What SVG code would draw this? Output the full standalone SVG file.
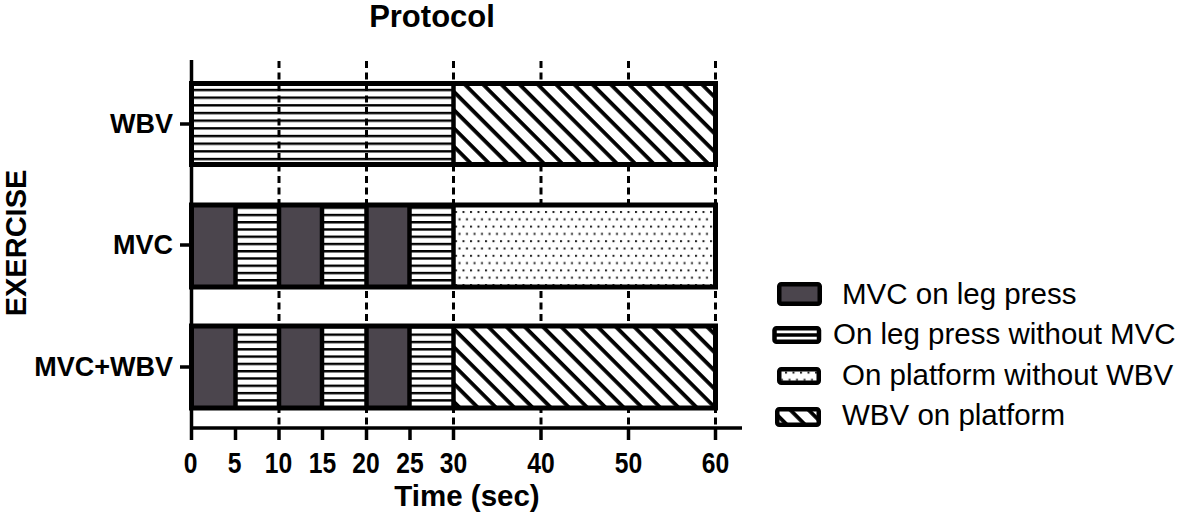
<svg xmlns="http://www.w3.org/2000/svg" width="1181" height="515" viewBox="0 0 1181 515">
<style>
.bold{font-family:"Liberation Sans",Arial,sans-serif;font-weight:bold;fill:#000}
.leg{font-family:"Liberation Sans",Arial,sans-serif;font-size:29.5px;fill:#000}
.tick{font-size:29px;text-anchor:middle}
.ylab{font-size:27px;text-anchor:end}
.dash{stroke:#000;stroke-width:3;stroke-dasharray:7 4.5;fill:none}
.ax{stroke:#000;stroke-width:3.5;fill:none}
.sep{stroke:#000;stroke-width:4.5}
.frame{fill:none;stroke:#000;stroke-width:5}
.dark{fill:#4b454d}
.sw{stroke:#000;stroke-width:4.5}
</style>
<defs>
<pattern id="hsA" patternUnits="userSpaceOnUse" x="0" y="88.8" width="20" height="7.67"><rect x="0" y="0" width="20" height="2.4" fill="#000"/></pattern>
<pattern id="hsB" patternUnits="userSpaceOnUse" x="0" y="213.8" width="20" height="7.25"><rect x="0" y="0" width="20" height="2.4" fill="#000"/></pattern>
<pattern id="hsC" patternUnits="userSpaceOnUse" x="0" y="333.5" width="20" height="7.3"><rect x="0" y="0" width="20" height="2.4" fill="#000"/></pattern>
<pattern id="diag" patternUnits="userSpaceOnUse" width="20" height="12.9" patternTransform="rotate(45)"><rect x="0" y="0" width="20" height="12.9" fill="#fff"/><rect x="0" y="0" width="20" height="3.8" fill="#000"/></pattern>
<pattern id="dots" patternUnits="userSpaceOnUse" x="455" y="211" width="7.5" height="14.6"><rect x="0" y="0" width="7.5" height="14.6" fill="#fff"/><rect x="0" y="0" width="2" height="2" fill="#222"/><rect x="3.5" y="7.3" width="2" height="2" fill="#222"/></pattern>
</defs>

<text class="bold" x="432" y="27" font-size="31" text-anchor="middle">Protocol</text>
<text class="bold" font-size="29" text-anchor="middle" transform="translate(26,243) rotate(-90)">EXERCISE</text>
<text class="bold" x="467" y="506" font-size="29.5" text-anchor="middle">Time (sec)</text>

<g id="connectors">
<line class="dash" x1="279" y1="61" x2="279" y2="428"/>
<line class="dash" x1="366.5" y1="61" x2="366.5" y2="428"/>
<line class="dash" x1="453.5" y1="61" x2="453.5" y2="428"/>
<line class="dash" x1="541" y1="61" x2="541" y2="428"/>
<line class="dash" x1="628.5" y1="61" x2="628.5" y2="428"/>
<line class="dash" x1="715.5" y1="61" x2="715.5" y2="428"/>
</g>

<g id="bar-wbv">
<rect x="191.5" y="83.5" width="262" height="81" fill="url(#hsA)"/>
<rect x="453.5" y="83.5" width="262" height="81" fill="url(#diag)"/>
<line class="sep" x1="453.5" y1="83.5" x2="453.5" y2="164.5"/>
<rect class="frame" x="191.5" y="83.5" width="524" height="81"/>
</g>

<g id="bar-mvc">
<rect class="dark" x="191.5" y="205" width="44" height="82"/>
<rect x="235.5" y="205" width="43.5" height="82" fill="url(#hsB)"/>
<rect class="dark" x="279" y="205" width="44" height="82"/>
<rect x="323" y="205" width="43.5" height="82" fill="url(#hsB)"/>
<rect class="dark" x="366.5" y="205" width="43.5" height="82"/>
<rect x="410" y="205" width="43.5" height="82" fill="url(#hsB)"/>
<rect x="453.5" y="205" width="262" height="82" fill="url(#dots)"/>
<line class="sep" x1="235.5" y1="205" x2="235.5" y2="287"/>
<line class="sep" x1="279" y1="205" x2="279" y2="287"/>
<line class="sep" x1="322" y1="205" x2="322" y2="287"/>
<line class="sep" x1="366.5" y1="205" x2="366.5" y2="287"/>
<line class="sep" x1="409.5" y1="205" x2="409.5" y2="287"/>
<line class="sep" x1="453.5" y1="205" x2="453.5" y2="287"/>
<rect class="frame" x="191.5" y="205" width="524" height="82"/>
</g>

<g id="bar-mvcwbv">
<rect class="dark" x="191.5" y="326" width="44" height="82"/>
<rect x="235.5" y="326" width="43.5" height="82" fill="url(#hsC)"/>
<rect class="dark" x="279" y="326" width="44" height="82"/>
<rect x="323" y="326" width="43.5" height="82" fill="url(#hsC)"/>
<rect class="dark" x="366.5" y="326" width="43.5" height="82"/>
<rect x="410" y="326" width="43.5" height="82" fill="url(#hsC)"/>
<rect x="453.5" y="326" width="262" height="82" fill="url(#diag)"/>
<line class="sep" x1="235.5" y1="326" x2="235.5" y2="408"/>
<line class="sep" x1="279" y1="326" x2="279" y2="408"/>
<line class="sep" x1="322" y1="326" x2="322" y2="408"/>
<line class="sep" x1="366.5" y1="326" x2="366.5" y2="408"/>
<line class="sep" x1="409.5" y1="326" x2="409.5" y2="408"/>
<line class="sep" x1="453.5" y1="326" x2="453.5" y2="408"/>
<rect class="frame" x="191.5" y="326" width="524" height="82"/>
</g>

<g id="axes">
<line class="ax" x1="191.5" y1="60" x2="191.5" y2="440"/>
<line class="ax" x1="190" y1="428" x2="742" y2="428"/>
<line class="ax" x1="180" y1="124" x2="191.5" y2="124"/>
<line class="ax" x1="180" y1="245" x2="191.5" y2="245"/>
<line class="ax" x1="180" y1="367" x2="191.5" y2="367"/>
<line class="ax" x1="235.5" y1="428" x2="235.5" y2="440"/>
<line class="ax" x1="279" y1="428" x2="279" y2="440"/>
<line class="ax" x1="322.5" y1="428" x2="322.5" y2="440"/>
<line class="ax" x1="366.5" y1="428" x2="366.5" y2="440"/>
<line class="ax" x1="410" y1="428" x2="410" y2="440"/>
<line class="ax" x1="453.5" y1="428" x2="453.5" y2="440"/>
<line class="ax" x1="541" y1="428" x2="541" y2="440"/>
<line class="ax" x1="628.5" y1="428" x2="628.5" y2="440"/>
<line class="ax" x1="715.5" y1="428" x2="715.5" y2="440"/>
</g>

<g id="ylabels">
<text class="bold ylab" x="173" y="133">WBV</text>
<text class="bold ylab" x="173" y="254">MVC</text>
<text class="bold ylab" x="173" y="376">MVC+WBV</text>
</g>

<g id="xlabels">
<text class="bold tick" transform="translate(190.5,473) scale(0.85,1)">0</text>
<text class="bold tick" transform="translate(234.5,473) scale(0.85,1)">5</text>
<text class="bold tick" transform="translate(278.5,473) scale(0.85,1)">10</text>
<text class="bold tick" transform="translate(322.5,473) scale(0.85,1)">15</text>
<text class="bold tick" transform="translate(366,473) scale(0.85,1)">20</text>
<text class="bold tick" transform="translate(410,473) scale(0.85,1)">25</text>
<text class="bold tick" transform="translate(453.5,473) scale(0.85,1)">30</text>
<text class="bold tick" transform="translate(541,473) scale(0.85,1)">40</text>
<text class="bold tick" transform="translate(628.5,473) scale(0.85,1)">50</text>
<text class="bold tick" transform="translate(715.5,473) scale(0.85,1)">60</text>
</g>

<g id="legend">
<g id="leg-mvc">
<rect class="sw dark" x="779.25" y="284.25" width="40.5" height="19.5" rx="2"/>
<text class="leg" x="842" y="304">MVC on leg press</text>
</g>
<g id="leg-legpress">
<rect class="sw" x="774.5" y="328.25" width="44.5" height="13.5" rx="2" fill="#fff"/>
<line x1="776" y1="335" x2="817.5" y2="335" stroke="#000" stroke-width="3.5"/>
<text class="leg" x="833" y="344">On leg press without MVC</text>
</g>
<g id="leg-platform">
<rect class="sw" x="779.25" y="369.25" width="39.5" height="13.5" rx="2" fill="url(#dots)"/>
<text class="leg" x="842" y="385">On platform without WBV</text>
</g>
<g id="leg-wbv">
<rect class="sw" x="777.25" y="409.25" width="41.5" height="15.5" rx="2" fill="url(#diag)"/>
<text class="leg" x="842" y="425">WBV on platform</text>
</g>
</g>
</svg>
